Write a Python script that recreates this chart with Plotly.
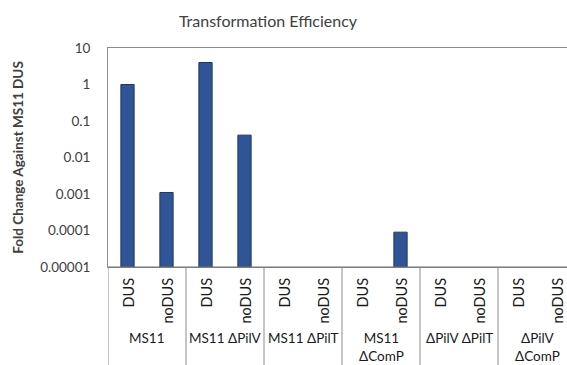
import plotly.graph_objects as go

# Strains (outer category) and conditions (inner category)
strains = ["MS11", "MS11 ΔPilV", "MS11 ΔPilT", "MS11<br>ΔComP", "ΔPilV ΔPilT", "ΔPilV<br>ΔComP"]
conditions = ["DUS", "noDUS"]

# Fold change vs MS11 DUS, per strain: [DUS, noDUS]; None = no transformants
fold_dus = [1.0, 4.0, None, None, None, None]
fold_nodus = [0.0011, 0.041, None, 0.00009, None, None]

y_tickvals = [10, 1, 0.1, 0.01, 0.001, 0.0001, 0.00001]
y_ticktext = ["10", "1", "0.1", "0.01", "0.001", "0.0001", "0.00001"]

# flatten into one position per bar
xpos, yvals = [], []
for i, _ in enumerate(strains):
    xpos += [2 * i, 2 * i + 1]
    yvals += [fold_dus[i], fold_nodus[i]]

BAR = "#2F5597"
EDGE = "#1F3864"
TEXT = "#404040"
FONT = "Lato, 'Noto Sans', sans-serif"

fig = go.Figure(
    go.Bar(
        x=xpos,
        y=yvals,
        width=0.34,
        marker=dict(color=BAR, line=dict(color=EDGE, width=1)),
    )
)

W, H = 567, 365
ml, mt, mb = 108, 48, 98
plot_h = H - mt - mb

fig.update_layout(
    width=W,
    height=H,
    margin=dict(l=ml, r=0, t=mt, b=mb),
    paper_bgcolor="white",
    plot_bgcolor="white",
    showlegend=False,
    font=dict(family=FONT, color=TEXT),
    title=dict(
        text="Transformation Efficiency",
        x=268 / W,
        xanchor="center",
        y=1 - 21 / H,
        yanchor="middle",
        font=dict(size=16, color=TEXT, family=FONT),
    ),
)

fig.update_xaxes(
    range=[-0.5, -0.5 + (W - ml) / 39.0],
    showticklabels=False,
    showgrid=False,
    zeroline=False,
    showline=True,
    mirror=True,
    linecolor="#8c8c8c",
    linewidth=1,
    ticks="",
)
fig.update_yaxes(
    type="log",
    range=[-5, 1],
    tickvals=y_tickvals,
    ticktext=y_ticktext,
    tickfont=dict(size=13.5, color=TEXT),
    ticks="",
    ticklabelstandoff=14,
    showgrid=False,
    zeroline=False,
    showline=True,
    linecolor="#8c8c8c",
    linewidth=1,
    title=dict(
        text="<b>Fold Change Against MS11 DUS</b>",
        font=dict(size=13.5, color=TEXT),
        standoff=13,
    ),
)

# baseline of the category axis
fig.add_shape(type="line", xref="paper", yref="paper", x0=0, x1=1, y0=0, y1=0,
              line=dict(color="#6e6e6e", width=1))

# group separators below the axis
for i in range(len(strains) + 1):
    xb = 2 * i - 0.5
    fig.add_shape(type="line", xref="x", yref="paper", x0=xb, x1=xb,
                  y0=0, y1=-mb / plot_h, line=dict(color="#8c8c8c", width=1))

# inner labels (rotated) and strain labels
for i, s in enumerate(strains):
    for j, c in enumerate(conditions):
        fig.add_annotation(
            x=2 * i + j, xref="x", y=0, yref="paper", yshift=-9,
            text=c, textangle=-90, showarrow=False,
            xanchor="center", yanchor="top",
            font=dict(size=14.5, color="#1a1a1a"),
        )
    fig.add_annotation(
        x=2 * i + 0.5, xref="x", y=0, yref="paper", yshift=-61,
        text=s, showarrow=False, xanchor="center", yanchor="top",
        align="center",
        font=dict(size=13.5, color="#1a1a1a"),
    )

fig.write_html("out.html")
